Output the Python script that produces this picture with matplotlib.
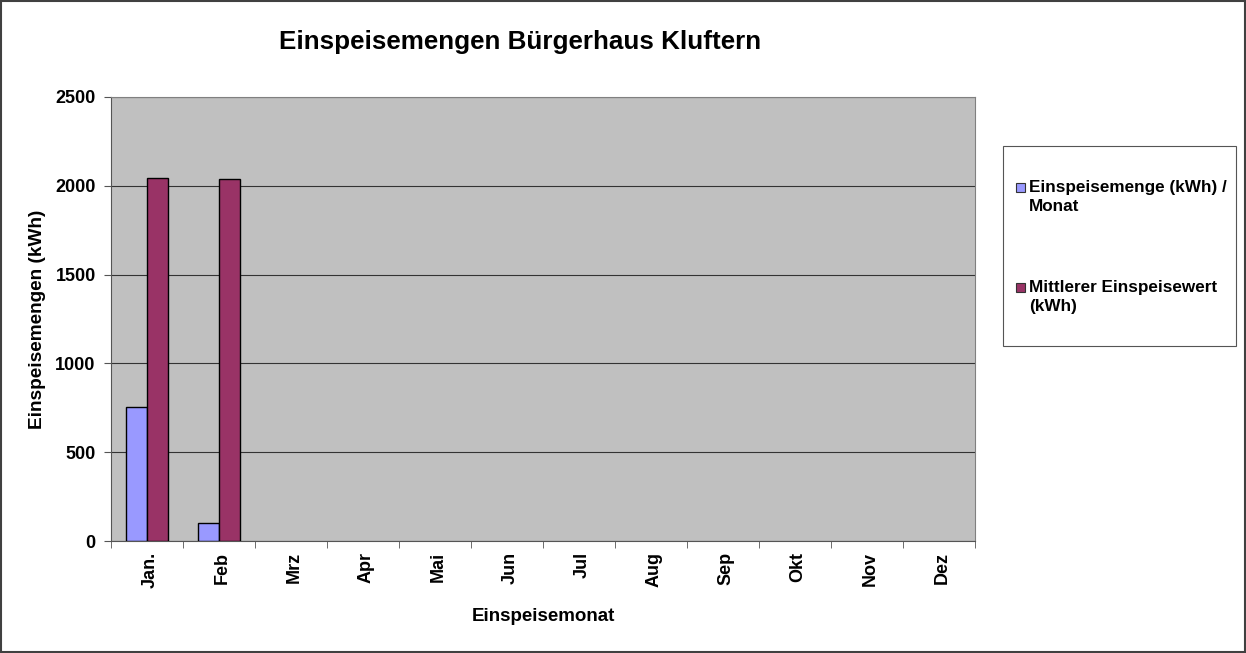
import matplotlib
matplotlib.use("Agg")
import matplotlib.pyplot as plt
from matplotlib.patches import Rectangle
import numpy as np

plt.rcParams['font.family'] = ['Liberation Sans', 'DejaVu Sans']

months = ["Jan.", "Feb", "Mrz", "Apr", "Mai", "Jun", "Jul", "Aug", "Sep", "Okt", "Nov", "Dez"]
# months without data are left empty (NaN)
einspeisemenge = [754, 100, None, None, None, None, None, None, None, None, None, None]
mittlerer = [2044, 2038, None, None, None, None, None, None, None, None, None, None]
series_names = ["Einspeisemenge (kWh) /\nMonat", "Mittlerer Einspeisewert\n(kWh)"]
series_colors = ['#9999FF', '#993366']
yticks = [0, 500, 1000, 1500, 2000, 2500]

W, H = 1246, 653
fig = plt.figure(figsize=(12.46, 6.53), dpi=100)
fig.patches.append(Rectangle((0.0008, 0.0015), 0.9984, 0.997, transform=fig.transFigure,
                             fill=False, edgecolor='#404040', linewidth=1.5))
ax = fig.add_axes([0.0891, 0.1715, 0.6934, 0.68])
ax.set_facecolor('#C0C0C0')

x = np.arange(len(months))
w = 1 / 3.5
m1 = np.array(einspeisemenge, dtype=float)
m2 = np.array(mittlerer, dtype=float)
ax.bar(x - w/2, m1, w, color=series_colors[0], edgecolor='black', linewidth=1, zorder=3)
ax.bar(x + w/2, m2, w, color=series_colors[1], edgecolor='black', linewidth=1, zorder=3)

ax.set_xlim(-0.5, 11.5)
ax.set_ylim(0, 2500)
ax.set_yticks(yticks)
ax.set_yticklabels([str(v) for v in yticks], fontsize=13, fontweight='bold')
ax.yaxis.grid(True, color='#333333', linewidth=0.8, zorder=0)
ax.set_axisbelow(True)

ax.set_xticks(x + 0.04)
ax.set_xticklabels(months, rotation=90, fontsize=13, fontweight='bold')
ax.tick_params(axis='x', which='major', length=0, pad=8)
ax.set_xticks(np.arange(-0.5, 12, 1), minor=True)
ax.tick_params(axis='x', which='minor', length=5, direction='out', color='#555555')
ax.tick_params(axis='y', length=5, direction='out', color='#555555', pad=6)

for s in ['top', 'right']:
    ax.spines[s].set_color('#808080')
for s in ['left', 'bottom']:
    ax.spines[s].set_color('#555555')

ax.set_xlabel("Einspeisemonat", fontsize=13.5, fontweight='bold', labelpad=14)
ax.set_ylabel("Einspeisemengen (kWh)", fontsize=13.7, fontweight='bold', labelpad=7)

fig.text(0.417, 0.935, "Einspeisemengen Bürgerhaus Kluftern", ha='center', va='center',
         fontsize=18.7, fontweight='bold')

# legend (drawn manually to match layout)
fig.patches.append(Rectangle((1003/W, 1 - 346/H), 233/W, 200/H, transform=fig.transFigure,
                             fill=False, edgecolor='#555555', linewidth=0.8))
entry_tops = [180, 280]
for name, col, top in zip(series_names, series_colors, entry_tops):
    fig.patches.append(Rectangle((1016/W, 1 - (top + 12)/H), 9/W, 9/H, transform=fig.transFigure,
                                 facecolor=col, edgecolor='#333333', linewidth=0.8))
    fig.text(1029/W, 1 - top/H, name, ha='left', va='top', fontsize=12.3,
             fontweight='bold', linespacing=1.35)

fig.savefig("out.png", dpi=100)
